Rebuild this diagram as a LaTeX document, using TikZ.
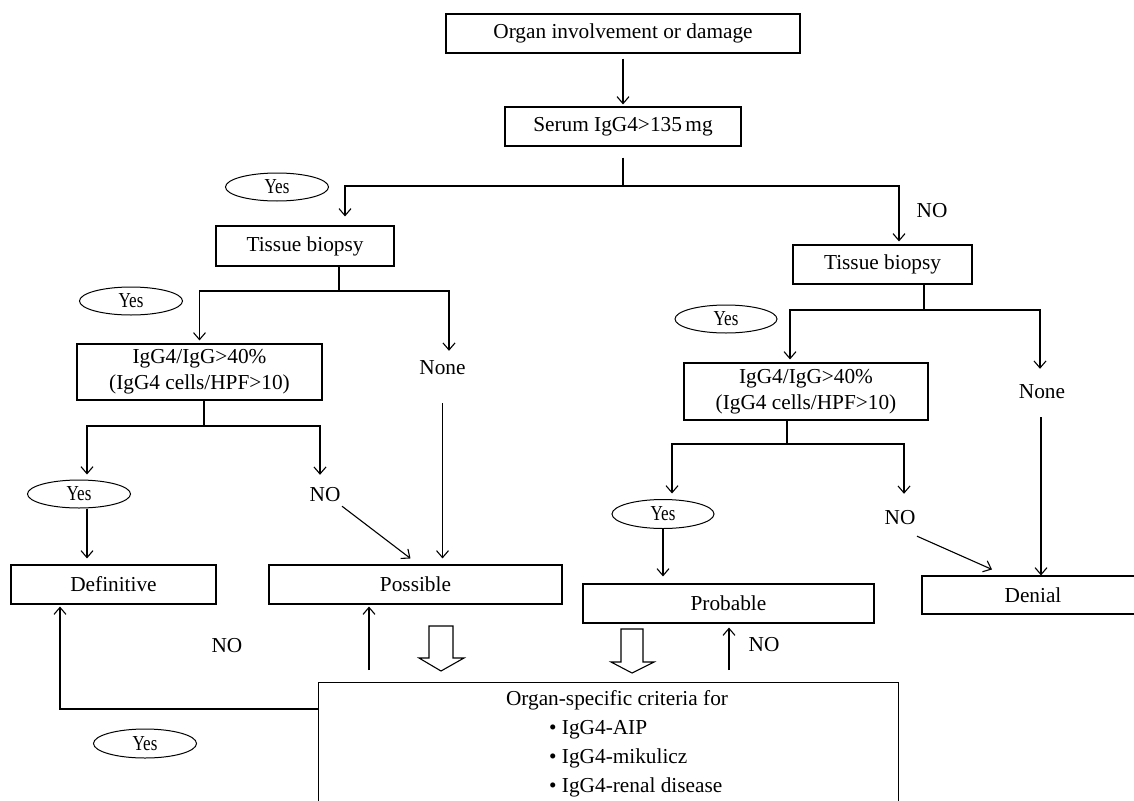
\documentclass[tikz,border=0pt]{standalone}
\usepackage{fontspec}
\setmainfont{Liberation Serif}
\usetikzlibrary{arrows.meta,shapes.geometric,calc}
\begin{document}
\begin{tikzpicture}[x=1pt,y=-1pt,
  every node/.style={font=\fontsize{21.3}{26}\selectfont},
  box/.style={draw,line width=1.1pt,rectangle,inner sep=0pt,align=center,minimum height=39pt},
  yes/.style={draw,ellipse,line width=1pt,minimum width=103pt,minimum height=28pt,inner sep=0pt},
  lbl/.style={inner sep=0pt,minimum height=20pt},
  ln/.style={line width=1.1pt},
  arr/.style={ln,-{Straight Barb[length=7pt,width=12pt,line width=1.1pt]}},
  hollow/.style={draw,line width=1.1pt,fill=white,line join=miter}
]
\useasboundingbox (0,0) rectangle (1134,800);
\clip (0,0) rectangle (1134,800);

% boxes
\node[box,minimum width=354pt] (b1) at (623,33.5) {Organ involvement or damage};
\node[box,minimum width=236pt] (serum) at (623,126.5) {Serum IgG4>135\,mg};
\node[box,minimum width=178pt,minimum height=40pt] (tbL) at (305,246) {Tissue biopsy};
\node[box,minimum width=179pt] (tbR) at (882.5,264.5) {Tissue biopsy};
\node[box,minimum width=245pt,minimum height=56pt] (igL) at (199.5,372) {IgG4/IgG>40\%\\(IgG4 cells/HPF>10)};
\node[box,minimum width=244pt,minimum height=57pt] (igR) at (806,391.5) {IgG4/IgG>40\%\\(IgG4 cells/HPF>10)};
\node[box,minimum width=205pt] (def) at (113.5,584.5) {Definitive};
\node[box,minimum width=293pt] (poss) at (415.5,584.5) {Possible};
\node[box,minimum width=291pt] (prob) at (728.5,603.5) {Probable};
\node[box,minimum width=222pt,minimum height=38pt] (denial) at (1033,595) {Denial};
\node[box,anchor=north west,minimum width=580pt,minimum height=150pt] (crit) at (318,682) {};
\node[lbl] (crith) at (617,700) {Organ-specific criteria for};
\node[lbl,anchor=west] (c1) at (549,730) {\textbullet\ IgG4-AIP};
\node[lbl,anchor=west] (c2) at (549,758) {\textbullet\ IgG4-mikulicz};
\node[lbl,anchor=west] (c3) at (549,787) {\textbullet\ IgG4-renal disease};

% ellipses
\node[yes] (yes1) at (277,187) {\scalebox{0.8}[1]{Yes}};
\node[yes] (yes2) at (131,301) {\scalebox{0.8}[1]{Yes}};
\node[yes] (yes3) at (79,494) {\scalebox{0.8}[1]{Yes}};
\node[yes,minimum height=29pt] (yes4) at (145,743.5) {\scalebox{0.8}[1]{Yes}};
\node[yes,minimum width=102pt] (yes5) at (726,319) {\scalebox{0.8}[1]{Yes}};
\node[yes,minimum width=102pt,minimum height=29pt] (yes6) at (663,514) {\scalebox{0.8}[1]{Yes}};

% labels
\node[lbl] (noTop) at (932,211) {NO};
\node[lbl] (noneL) at (442.5,368) {None};
\node[lbl] (noneR) at (1042,392) {None};
\node[lbl] (noL) at (325,495) {NO};
\node[lbl] (noR) at (900,518) {NO};
\node[lbl] (noB1) at (227,646) {NO};
\node[lbl] (noB2) at (764,645) {NO};

% top
\draw[arr] ([yshift=-5pt]b1.south) -- ([yshift=2pt]serum.north);
\coordinate (s1) at (623,186);
\draw[ln] ([yshift=-11pt]serum.south) -- (s1);
\draw[arr] (s1) -| ([xshift=40pt,yshift=9pt]tbL.north);
\draw[arr] (s1) -| ([xshift=16.5pt,yshift=3pt]tbR.north);

% left branch
\coordinate (t1) at (339,291);
\draw[ln] (tbL.south -| t1) -- (t1);
\draw[arr] (t1) -| ([yshift=3pt]igL.north);
\draw[arr] (t1) -| ([xshift=6.5pt,yshift=7pt]noneL.north);
\draw[arr,shorten >=6pt] ([yshift=-25pt]noneL.south) -- (noneL.south |- poss.north);

\coordinate (i1) at (204,426);
\draw[ln] (igL.south -| i1) -- (i1);
\draw[arr] (i1) -| ([xshift=8pt,yshift=5pt]yes3.north);
\draw[arr] (i1) -| ([xshift=-5pt,yshift=10pt]noL.north);
\draw[arr,shorten >=6pt] ([xshift=8pt]yes3.south) -- ([xshift=8pt]yes3.south |- def.north);
\draw[arr] ([xshift=17pt,yshift=-1pt]noL.south) -- ([xshift=-5pt,yshift=6pt]poss.north);

% bottom returns
\draw[arr] ([yshift=-27pt]crit.north west) -| ([xshift=-53.5pt,yshift=-2pt]def.south);
\draw[arr,shorten >=2pt] ([xshift=51pt,yshift=12pt]crit.north west) -- ([xshift=51pt]crit.north west |- poss.south);
\draw[arr,shorten >=4pt] ([xshift=411pt,yshift=12pt]crit.north west) -- ([xshift=411pt]crit.north west |- prob.south);

% right branch
\coordinate (t2) at (924,310);
\draw[ln] (tbR.south -| t2) -- (t2);
\draw[arr] (t2) -| ([xshift=-16pt,yshift=3pt]igR.north);
\draw[arr] (t2) -| ([xshift=-2pt,yshift=13pt]noneR.north);
\draw[arr] ([xshift=-1pt,yshift=-15pt]noneR.south) -- ([xshift=-1pt]noneR.south |- denial.north);

\coordinate (i2) at (787,444);
\draw[ln] (igR.south -| i2) -- (i2);
\draw[arr] (i2) -| ([xshift=9pt,yshift=5.5pt]yes6.north);
\draw[arr] (i2) -| ([xshift=4pt,yshift=14pt]noR.north);
\draw[arr,shorten >=7pt] (yes6.south) -- (yes6.south |- prob.north);
\draw[arr] ([xshift=17pt,yshift=-8pt]noR.south) -- ([xshift=-41pt,yshift=6pt]denial.north);

% hollow arrows
\draw[hollow] (429,626) -- (453,626) -- (453,658) -- (464,658) -- (441,671) -- (419,658) -- (429,658) -- cycle;
\draw[hollow] (621,629) -- (643,629) -- (643,662) -- (654,662) -- (632,673) -- (611,662) -- (621,662) -- cycle;
\end{tikzpicture}
\end{document}
